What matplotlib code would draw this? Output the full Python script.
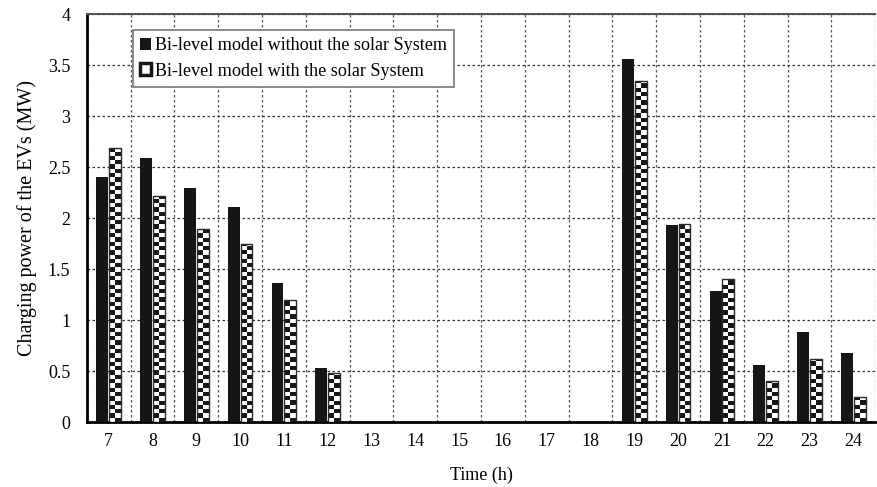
import numpy as np
import matplotlib.pyplot as plt
from matplotlib.patches import Rectangle

plt.rcParams['font.family'] = ['Liberation Serif', 'DejaVu Serif']

# Часы суток и мощность зарядки электромобилей (МВт)
hours = [7, 8, 9, 10, 11, 12, 13, 14, 15, 16, 17, 18, 19, 20, 21, 22, 23, 24]
without_solar = [2.40, 2.59, 2.30, 2.11, 1.36, 0.53, 0, 0, 0, 0, 0, 0,
                 3.56, 1.93, 1.29, 0.56, 0.88, 0.68]
with_solar = [2.69, 2.22, 1.89, 1.75, 1.20, 0.48, 0, 0, 0, 0, 0, 0,
              3.34, 1.94, 1.40, 0.40, 0.62, 0.25]

label_without = 'Bi-level model without the solar System'
label_with = 'Bi-level model with the solar System'

fig, ax = plt.subplots(figsize=(8.77, 4.87), dpi=100)
fig.subplots_adjust(left=0.099, right=0.998, top=0.971, bottom=0.133)

x = np.arange(len(hours))
w = 0.27
b1 = ax.bar(x - w / 2 - 0.01, without_solar, w, color='#161616', zorder=3)
b2 = ax.bar(x + w / 2 + 0.01, with_solar, w, facecolor='none',
            edgecolor='#2a2a2a', linewidth=1.0, zorder=4)

# шахматная заливка для второй серии
cell = 0.042
for bar in b2:
    h = bar.get_height()
    if h <= 0:
        continue
    bx, bw = bar.get_x(), bar.get_width()
    nrows = int(np.ceil(h / cell))
    board = (np.indices((nrows, 2)).sum(axis=0) % 2).astype(float)
    im = ax.imshow(board, cmap='gray_r', vmin=0, vmax=1.1, origin='lower',
                   extent=[bx, bx + bw, 0, nrows * cell], aspect='auto',
                   interpolation='nearest', zorder=3.5)
    im.set_clip_path(bar)

ax.set_xlim(-0.5, len(hours) - 0.5)
ax.set_ylim(0, 4)
ax.set_xticks(x)
ax.set_xticklabels(hours)
ax.set_yticks(np.arange(0, 4.01, 0.5))
ax.set_yticklabels(['0', '0.5', '1', '1.5', '2', '2.5', '3', '3.5', '4'])
ax.tick_params(length=0, labelsize=13, pad=8)
ax.tick_params(axis='y', pad=12)

# пунктирная сетка: горизонтальная по значениям, вертикальная между часами
ax.set_xticks(np.arange(-0.5, len(hours), 1), minor=True)
ax.grid(axis='y', which='major', linestyle=(0, (2, 2)), color='#333333',
        linewidth=0.9, zorder=0)
ax.grid(axis='x', which='minor', linestyle=(0, (2, 2)), color='#555555',
        linewidth=0.9, zorder=0)
ax.tick_params(which='minor', length=0)

ax.spines['left'].set_linewidth(2)
ax.spines['bottom'].set_linewidth(2)
ax.spines['top'].set_linewidth(1.5)
ax.spines['top'].set_color('#555555')
ax.spines['right'].set_visible(False)

ax.set_xlabel('Time (h)', fontsize=13, labelpad=12)
ax.set_ylabel('Charging power of the EVs (MW)', fontsize=14.5, labelpad=8)

h1 = Rectangle((0, 0), 1, 1, facecolor='#161616')
h2 = Rectangle((0, 0), 1, 1, facecolor='white', edgecolor='#161616',
               linewidth=2.5)
leg = ax.legend([h1, h2], [label_without, label_with], loc='upper left',
                bbox_to_anchor=(0.0587, 0.961), fontsize=13.1,
                fancybox=False, framealpha=1, edgecolor='#777777',
                handlelength=0.6, handleheight=0.6, handletextpad=0.2,
                borderpad=0.4, labelspacing=0.46, borderaxespad=0)
leg.get_frame().set_linewidth(1.2)
leg.set_zorder(10)

plt.savefig('out.png', dpi=100)
